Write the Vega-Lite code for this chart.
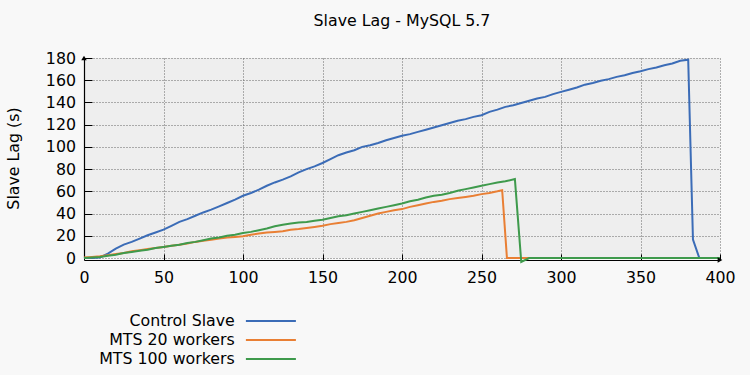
{
  "$schema": "https://vega.github.io/schema/vega-lite/v6.json",
  "width": 636,
  "height": 200,
  "autosize": "none",
  "padding": {"left": 84, "top": 58, "right": 30, "bottom": 117},
  "background": "#f8f8f8",
  "title": {"text": "Slave Lag - MySQL 5.7", "font": "DejaVu Sans", "fontSize": 15.8, "fontWeight": "normal", "color": "#000000", "offset": 20},
  "config": {
    "view": {"fill": "#eeeeee", "stroke": null},
    "font": "DejaVu Sans",
    "axis": {
      "labelFont": "DejaVu Sans", "labelFontSize": 15.8, "labelColor": "#000000",
      "labelFlush": false, "labelOverlap": false,
      "titleFont": "DejaVu Sans", "titleFontSize": 15.8, "titleFontWeight": "normal", "titleColor": "#000000",
      "domainColor": "#000000", "domainWidth": 1.2, "tickColor": "#000000",
      "gridColor": "#666666", "gridDash": [1, 2], "gridOpacity": 1, "gridWidth": 1
    }
  },
  "datasets": {
    "lag": [
      {"s":"Control Slave","t":0,"v":0},{"s":"Control Slave","t":5,"v":0},{"s":"Control Slave","t":10,"v":0.5},{"s":"Control Slave","t":15,"v":4},{"s":"Control Slave","t":20,"v":8.5},{"s":"Control Slave","t":25,"v":12},{"s":"Control Slave","t":30,"v":14.5},{"s":"Control Slave","t":35,"v":17.5},{"s":"Control Slave","t":40,"v":20.5},{"s":"Control Slave","t":45,"v":23},{"s":"Control Slave","t":50,"v":25.5},{"s":"Control Slave","t":55,"v":29},{"s":"Control Slave","t":60,"v":32.5},{"s":"Control Slave","t":65,"v":35},{"s":"Control Slave","t":70,"v":38},{"s":"Control Slave","t":75,"v":41},{"s":"Control Slave","t":80,"v":43.5},{"s":"Control Slave","t":85,"v":46.5},{"s":"Control Slave","t":90,"v":49.5},{"s":"Control Slave","t":95,"v":52.5},{"s":"Control Slave","t":100,"v":56},{"s":"Control Slave","t":105,"v":58.5},{"s":"Control Slave","t":110,"v":61.5},{"s":"Control Slave","t":115,"v":65},{"s":"Control Slave","t":120,"v":68},{"s":"Control Slave","t":125,"v":70.5},{"s":"Control Slave","t":130,"v":73.5},{"s":"Control Slave","t":135,"v":77},{"s":"Control Slave","t":140,"v":80},{"s":"Control Slave","t":145,"v":82.5},{"s":"Control Slave","t":150,"v":85.5},{"s":"Control Slave","t":155,"v":89},{"s":"Control Slave","t":160,"v":92.5},{"s":"Control Slave","t":165,"v":95},{"s":"Control Slave","t":170,"v":97},{"s":"Control Slave","t":175,"v":100},{"s":"Control Slave","t":180,"v":101.5},{"s":"Control Slave","t":185,"v":103.5},{"s":"Control Slave","t":190,"v":106},{"s":"Control Slave","t":195,"v":108},{"s":"Control Slave","t":200,"v":110},{"s":"Control Slave","t":205,"v":111.5},{"s":"Control Slave","t":210,"v":113.5},{"s":"Control Slave","t":215,"v":115.5},{"s":"Control Slave","t":220,"v":117.5},{"s":"Control Slave","t":225,"v":119.5},{"s":"Control Slave","t":230,"v":121.5},{"s":"Control Slave","t":235,"v":123.5},{"s":"Control Slave","t":240,"v":125},{"s":"Control Slave","t":245,"v":127},{"s":"Control Slave","t":250,"v":128.5},{"s":"Control Slave","t":255,"v":131.5},{"s":"Control Slave","t":260,"v":133.5},{"s":"Control Slave","t":265,"v":136},{"s":"Control Slave","t":270,"v":137.5},{"s":"Control Slave","t":275,"v":139.5},{"s":"Control Slave","t":280,"v":141.5},{"s":"Control Slave","t":285,"v":143.5},{"s":"Control Slave","t":290,"v":145},{"s":"Control Slave","t":295,"v":147.5},{"s":"Control Slave","t":300,"v":149.5},{"s":"Control Slave","t":305,"v":151.5},{"s":"Control Slave","t":310,"v":153.5},{"s":"Control Slave","t":315,"v":156},{"s":"Control Slave","t":320,"v":157.5},{"s":"Control Slave","t":325,"v":159.5},{"s":"Control Slave","t":330,"v":161},{"s":"Control Slave","t":335,"v":163},{"s":"Control Slave","t":340,"v":164.5},{"s":"Control Slave","t":345,"v":166.5},{"s":"Control Slave","t":350,"v":168},{"s":"Control Slave","t":355,"v":170},{"s":"Control Slave","t":360,"v":171.5},{"s":"Control Slave","t":365,"v":173.5},{"s":"Control Slave","t":370,"v":175},{"s":"Control Slave","t":375,"v":177.5},{"s":"Control Slave","t":380,"v":178.5},{"s":"Control Slave","t":383,"v":16.5},{"s":"Control Slave","t":387,"v":0},{"s":"Control Slave","t":390,"v":0},{"s":"Control Slave","t":395,"v":0},{"s":"Control Slave","t":400,"v":0},
      {"s":"MTS 20 workers","t":0,"v":0.5},{"s":"MTS 20 workers","t":5,"v":1},{"s":"MTS 20 workers","t":10,"v":1.5},{"s":"MTS 20 workers","t":15,"v":2.5},{"s":"MTS 20 workers","t":20,"v":3.5},{"s":"MTS 20 workers","t":25,"v":4.5},{"s":"MTS 20 workers","t":30,"v":6},{"s":"MTS 20 workers","t":35,"v":7},{"s":"MTS 20 workers","t":40,"v":8},{"s":"MTS 20 workers","t":45,"v":9},{"s":"MTS 20 workers","t":50,"v":10},{"s":"MTS 20 workers","t":55,"v":11},{"s":"MTS 20 workers","t":60,"v":12},{"s":"MTS 20 workers","t":65,"v":13},{"s":"MTS 20 workers","t":70,"v":14.5},{"s":"MTS 20 workers","t":75,"v":15.5},{"s":"MTS 20 workers","t":80,"v":16.5},{"s":"MTS 20 workers","t":85,"v":17.5},{"s":"MTS 20 workers","t":90,"v":18.5},{"s":"MTS 20 workers","t":95,"v":19},{"s":"MTS 20 workers","t":100,"v":19.5},{"s":"MTS 20 workers","t":105,"v":21},{"s":"MTS 20 workers","t":110,"v":22},{"s":"MTS 20 workers","t":115,"v":23},{"s":"MTS 20 workers","t":120,"v":23.5},{"s":"MTS 20 workers","t":125,"v":24},{"s":"MTS 20 workers","t":130,"v":25.5},{"s":"MTS 20 workers","t":135,"v":26},{"s":"MTS 20 workers","t":140,"v":27},{"s":"MTS 20 workers","t":145,"v":28},{"s":"MTS 20 workers","t":150,"v":29},{"s":"MTS 20 workers","t":155,"v":30.5},{"s":"MTS 20 workers","t":160,"v":31.5},{"s":"MTS 20 workers","t":165,"v":32.5},{"s":"MTS 20 workers","t":170,"v":34},{"s":"MTS 20 workers","t":175,"v":36},{"s":"MTS 20 workers","t":180,"v":38},{"s":"MTS 20 workers","t":185,"v":40},{"s":"MTS 20 workers","t":190,"v":41.5},{"s":"MTS 20 workers","t":195,"v":43},{"s":"MTS 20 workers","t":200,"v":44},{"s":"MTS 20 workers","t":205,"v":46},{"s":"MTS 20 workers","t":210,"v":47.5},{"s":"MTS 20 workers","t":215,"v":49},{"s":"MTS 20 workers","t":220,"v":50.5},{"s":"MTS 20 workers","t":225,"v":51.5},{"s":"MTS 20 workers","t":230,"v":53},{"s":"MTS 20 workers","t":235,"v":54},{"s":"MTS 20 workers","t":240,"v":55},{"s":"MTS 20 workers","t":245,"v":56},{"s":"MTS 20 workers","t":250,"v":57.5},{"s":"MTS 20 workers","t":255,"v":58.5},{"s":"MTS 20 workers","t":260,"v":60},{"s":"MTS 20 workers","t":263,"v":61},{"s":"MTS 20 workers","t":266,"v":0},{"s":"MTS 20 workers","t":270,"v":0},{"s":"MTS 20 workers","t":275,"v":0},{"s":"MTS 20 workers","t":280,"v":0},{"s":"MTS 20 workers","t":400,"v":0},
      {"s":"MTS 100 workers","t":0,"v":0},{"s":"MTS 100 workers","t":5,"v":0.5},{"s":"MTS 100 workers","t":10,"v":1},{"s":"MTS 100 workers","t":15,"v":2},{"s":"MTS 100 workers","t":20,"v":3},{"s":"MTS 100 workers","t":25,"v":4.5},{"s":"MTS 100 workers","t":30,"v":5.5},{"s":"MTS 100 workers","t":35,"v":6.5},{"s":"MTS 100 workers","t":40,"v":7.5},{"s":"MTS 100 workers","t":45,"v":9},{"s":"MTS 100 workers","t":50,"v":10},{"s":"MTS 100 workers","t":55,"v":11},{"s":"MTS 100 workers","t":60,"v":12},{"s":"MTS 100 workers","t":65,"v":13.5},{"s":"MTS 100 workers","t":70,"v":14.5},{"s":"MTS 100 workers","t":75,"v":16},{"s":"MTS 100 workers","t":80,"v":17.5},{"s":"MTS 100 workers","t":85,"v":18.5},{"s":"MTS 100 workers","t":90,"v":20},{"s":"MTS 100 workers","t":95,"v":21},{"s":"MTS 100 workers","t":100,"v":22.5},{"s":"MTS 100 workers","t":105,"v":23.5},{"s":"MTS 100 workers","t":110,"v":25},{"s":"MTS 100 workers","t":115,"v":26.5},{"s":"MTS 100 workers","t":120,"v":28.5},{"s":"MTS 100 workers","t":125,"v":30},{"s":"MTS 100 workers","t":130,"v":31},{"s":"MTS 100 workers","t":135,"v":32},{"s":"MTS 100 workers","t":140,"v":32.5},{"s":"MTS 100 workers","t":145,"v":33.5},{"s":"MTS 100 workers","t":150,"v":34.5},{"s":"MTS 100 workers","t":155,"v":36},{"s":"MTS 100 workers","t":160,"v":37.5},{"s":"MTS 100 workers","t":165,"v":38.5},{"s":"MTS 100 workers","t":170,"v":40},{"s":"MTS 100 workers","t":175,"v":41.5},{"s":"MTS 100 workers","t":180,"v":43},{"s":"MTS 100 workers","t":185,"v":44.5},{"s":"MTS 100 workers","t":190,"v":46},{"s":"MTS 100 workers","t":195,"v":47.5},{"s":"MTS 100 workers","t":200,"v":49},{"s":"MTS 100 workers","t":205,"v":51},{"s":"MTS 100 workers","t":210,"v":52.5},{"s":"MTS 100 workers","t":215,"v":54.5},{"s":"MTS 100 workers","t":220,"v":56},{"s":"MTS 100 workers","t":225,"v":57},{"s":"MTS 100 workers","t":230,"v":58.5},{"s":"MTS 100 workers","t":235,"v":60.5},{"s":"MTS 100 workers","t":240,"v":62},{"s":"MTS 100 workers","t":245,"v":63.5},{"s":"MTS 100 workers","t":250,"v":65},{"s":"MTS 100 workers","t":255,"v":66.5},{"s":"MTS 100 workers","t":260,"v":68},{"s":"MTS 100 workers","t":265,"v":69},{"s":"MTS 100 workers","t":271,"v":71},{"s":"MTS 100 workers","t":275,"v":-3.5},{"s":"MTS 100 workers","t":280,"v":0},{"s":"MTS 100 workers","t":300,"v":0},{"s":"MTS 100 workers","t":350,"v":0},{"s":"MTS 100 workers","t":400,"v":0}
    ]
  },
  "layer": [
    {
      "data": {"name": "lag"},
      "mark": {"type": "line", "strokeWidth": 2, "clip": false},
      "encoding": {
        "x": {"field": "t", "type": "quantitative",
          "scale": {"domain": [0, 400], "nice": false},
          "axis": {"values": [0, 50, 100, 150, 200, 250, 300, 350, 400], "title": null, "tickSize": -6, "labelPadding": 16, "offset": 2}},
        "y": {"field": "v", "type": "quantitative",
          "scale": {"domain": [0, 180], "nice": false},
          "axis": {"values": [0, 20, 40, 60, 80, 100, 120, 140, 160, 180], "title": "Slave Lag (s)", "tickSize": -8, "labelPadding": 16.5, "titlePadding": 24}},
        "color": {"field": "s", "type": "nominal",
          "scale": {"domain": ["Control Slave", "MTS 20 workers", "MTS 100 workers"], "range": ["#3b6cb7", "#e97f34", "#3e9a4c"]},
          "legend": {"orient": "none", "legendX": 179, "legendY": 255, "title": null,
            "symbolType": "M-5,0H5", "symbolSize": 100, "symbolStrokeWidth": 2,
            "labelAlign": "right", "labelOffset": -44, "labelFontSize": 15.8, "labelFont": "DejaVu Sans", "labelColor": "#000000",
            "rowPadding": 2}}
      }
    },
    {
      "data": {"values": [{}]},
      "mark": {"type": "point", "shape": "triangle-up", "filled": true, "color": "#000000", "size": 30, "opacity": 1},
      "encoding": {
        "x": {"datum": 0, "type": "quantitative", "axis": {"values": [0, 50, 100, 150, 200, 250, 300, 350, 400], "title": null, "tickSize": -6, "labelPadding": 16, "offset": 2}},
        "y": {"datum": 180, "type": "quantitative", "axis": {"values": [0, 20, 40, 60, 80, 100, 120, 140, 160, 180], "title": "Slave Lag (s)", "tickSize": -8, "labelPadding": 16.5, "titlePadding": 24}}
      }
    },
    {
      "data": {"values": [{}]},
      "mark": {"type": "point", "shape": "triangle-right", "filled": true, "color": "#000000", "size": 30, "opacity": 1, "yOffset": 2},
      "encoding": {
        "x": {"datum": 400, "type": "quantitative", "axis": {"values": [0, 50, 100, 150, 200, 250, 300, 350, 400], "title": null, "tickSize": -6, "labelPadding": 16, "offset": 2}},
        "y": {"datum": 0, "type": "quantitative", "axis": {"values": [0, 20, 40, 60, 80, 100, 120, 140, 160, 180], "title": "Slave Lag (s)", "tickSize": -8, "labelPadding": 16.5, "titlePadding": 24}}
      }
    }
  ]
}
